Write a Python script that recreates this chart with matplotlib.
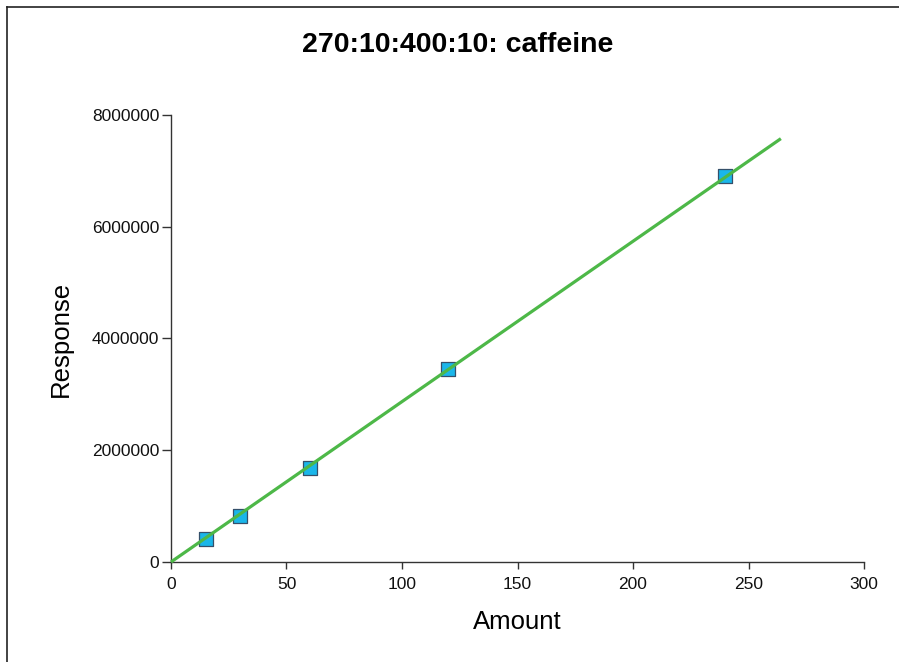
import numpy as np
import matplotlib.pyplot as plt
from matplotlib.lines import Line2D

# calibration standards
amount = [15, 30, 60, 120, 240]
response = [415000, 830000, 1690000, 3450000, 6900000]

# linear fit
slope = 28700
intercept = 0
fit_x = [0, 264]

x_ticks = [0, 50, 100, 150, 200, 250, 300]
y_ticks = [0, 2000000, 4000000, 6000000, 8000000]

plt.rcParams["font.family"] = ["Liberation Sans", "DejaVu Sans"]

fig = plt.figure(figsize=(8.99, 6.62), dpi=100)
ax = fig.add_axes([0.1902, 0.1511, 0.7709, 0.6752])

# frame lines on left and top of the figure
fig.add_artist(Line2D([0.0078, 0.0078], [0, 0.9894], transform=fig.transFigure, color="#222222", lw=1.2))
fig.add_artist(Line2D([0.0078, 1.0], [0.9894, 0.9894], transform=fig.transFigure, color="#222222", lw=1.2))

ax.scatter(amount, response, marker="s", s=90, facecolor="#1ab6ea",
           edgecolor="#35506a", linewidth=0.9, zorder=2, clip_on=False)
fx = np.array(fit_x)
ax.plot(fx, slope * fx + intercept, color="#4db848", lw=2.3, zorder=3,
        solid_capstyle="butt", clip_on=False)

ax.set_xlim(0, 300)
ax.set_ylim(0, 8000000)
ax.set_xticks(x_ticks)
ax.set_yticks(y_ticks)
ax.set_yticklabels([str(v) for v in y_ticks])

for side in ["top", "right"]:
    ax.spines[side].set_visible(False)
for side in ["left", "bottom"]:
    ax.spines[side].set_color("#333333")
    ax.spines[side].set_linewidth(1.0)

ax.tick_params(direction="out", width=1.0, color="#333333",
               labelsize=12.5, labelcolor="#111111")
ax.tick_params(axis="x", length=5, pad=6)
ax.tick_params(axis="y", length=6.5, pad=2)

fig.text(0.509, 0.932, "270:10:400:10: caffeine", fontsize=20.5,
         fontweight="bold", ha="center", va="center")
ax.set_xlabel("Amount", fontsize=18.5)
ax.set_ylabel("Response", fontsize=18.5)
ax.xaxis.set_label_coords(0.5, -0.108)
ax.yaxis.set_label_coords(-0.1414, 0.5)

fig.savefig("out.png", dpi=100, facecolor="white")
